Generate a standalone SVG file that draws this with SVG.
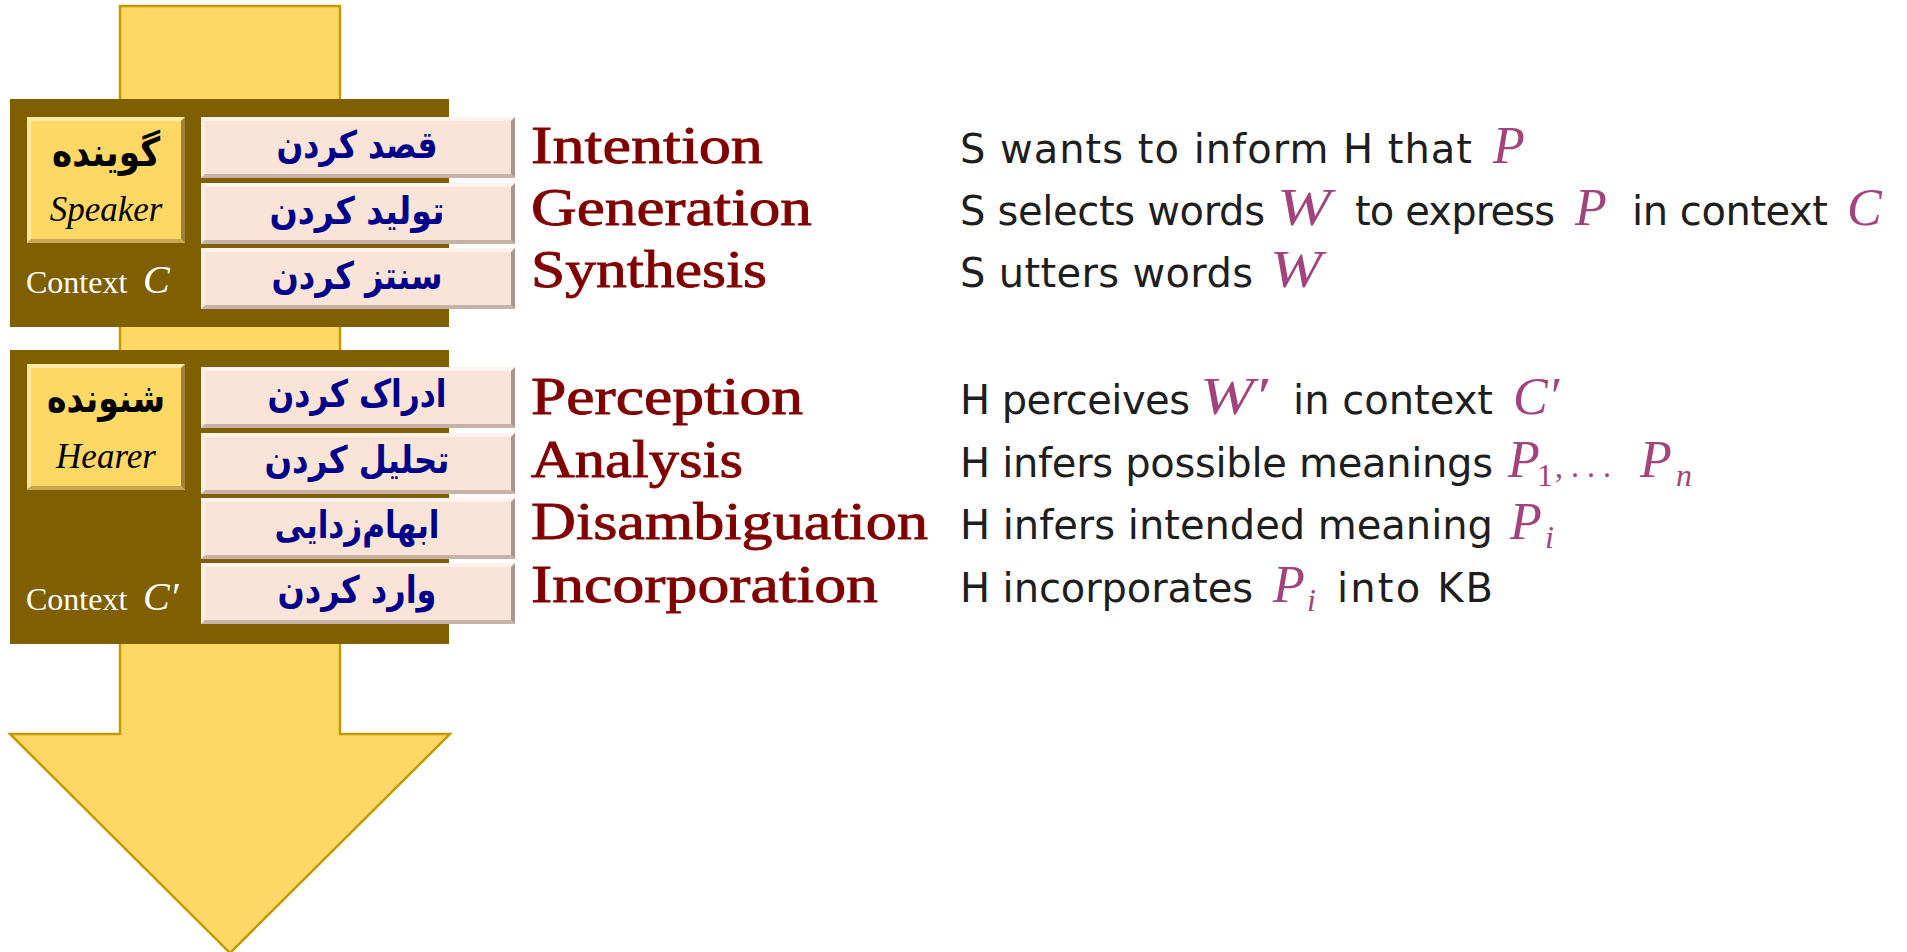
<svg xmlns="http://www.w3.org/2000/svg" xmlns:xlink="http://www.w3.org/1999/xlink" width="1907" height="952" viewBox="0 0 1907 952">
<style>
.brown{fill:#7F5F00}
.fa{font-family:"DejaVu Sans",sans-serif;font-weight:bold;font-size:38px;fill:#00008B;text-anchor:middle}
.role{font-family:"DejaVu Sans",sans-serif;font-weight:bold;font-size:40px;fill:#000;text-anchor:middle}
.en{font-family:"Liberation Serif",serif;font-style:italic;font-size:35px;fill:#000;text-anchor:middle}
.ctx{font-family:"Liberation Serif",serif;font-size:32px;fill:#fff}
.ctxm{font-family:"Liberation Serif",serif;font-style:italic;font-size:40px;fill:#fff}
.lbl{font-family:"Liberation Serif",serif;font-size:53px;fill:#800000;stroke:#800000;stroke-width:0.9}
.d{font-family:"DejaVu Sans",sans-serif;font-size:40px;fill:#1E1E1E}
.m{font-family:"Liberation Serif",serif;font-style:italic;font-size:52px;fill:#A1437D}
.ms{font-family:"Liberation Serif",serif;font-size:32px;fill:#A1437D}
.msi{font-family:"Liberation Serif",serif;font-style:italic;font-size:32px;fill:#A1437D}
</style>
<defs>
<g id="pink">
<rect x="0" y="0" width="314" height="61" fill="#FAE4D7"/>
<polygon points="0,0 314,0 310,4 4,4" fill="#FDF2EC"/>
<polygon points="0,0 4,4 4,57 0,61" fill="#FCEEE6"/>
<polygon points="314,0 314,61 310,57 310,4" fill="#A8978F"/>
<polygon points="0,61 314,61 310,57 4,57" fill="#C6B2A7"/>
</g>
<g id="yel">
<rect x="0" y="0" width="158" height="126" fill="#FDD865"/>
<polygon points="0,0 158,0 154,4 4,4" fill="#FFEBA8"/>
<polygon points="0,0 4,4 4,122 0,126" fill="#FFE69A"/>
<polygon points="158,0 158,126 154,122 154,4" fill="#9E8040"/>
<polygon points="0,126 158,126 154,122 4,122" fill="#C9A752"/>
</g>
</defs>
<rect width="1907" height="952" fill="#fff"/>
<g id="arrow">
<polygon points="120,6 340,6 340,734 450,734 230,953 10,734 120,734" fill="#FDD866" stroke="#C49A00" stroke-width="2.5" stroke-linejoin="miter"/>
</g>
<g id="speaker-panel">
<rect class="brown" x="10" y="99" width="439" height="228"/>
<use xlink:href="#yel" x="27" y="117"/>
<text class="role" x="106" y="166" textLength="108" lengthAdjust="spacingAndGlyphs">گوینده</text>
<text class="en" x="106" y="221">Speaker</text>
<text class="ctx" x="26" y="293">Context</text>
<text class="ctxm" x="143" y="293">C</text>
</g>
<g id="hearer-panel">
<rect class="brown" x="10" y="350" width="439" height="294"/>
<use xlink:href="#yel" x="27" y="364"/>
<text class="role" x="106" y="412" textLength="118" lengthAdjust="spacingAndGlyphs">شنونده</text>
<text class="en" x="106" y="468">Hearer</text>
<text class="ctx" x="26" y="610">Context</text>
<text class="ctxm" x="143" y="610">C′</text>
</g>
<g id="step-intention">
<use xlink:href="#pink" x="201" y="117"/>
<text class="fa" x="357" y="158" textLength="161" lengthAdjust="spacingAndGlyphs">قصد کردن</text>
<text class="lbl" x="531" y="163" textLength="232" lengthAdjust="spacingAndGlyphs">Intention</text>
<text class="d" x="960" y="163" textLength="512">S wants to inform H that</text>
<text class="m" x="1493" y="163">P</text>
</g>
<g id="step-generation">
<use xlink:href="#pink" x="201" y="183"/>
<text class="fa" x="357" y="224" textLength="175" lengthAdjust="spacingAndGlyphs">تولید کردن</text>
<text class="lbl" x="531" y="225" textLength="281" lengthAdjust="spacingAndGlyphs">Generation</text>
<text class="d" x="960" y="225" textLength="305">S selects words</text>
<text class="m" x="1277" y="225" textLength="54" lengthAdjust="spacingAndGlyphs">W</text>
<text class="d" x="1355" y="225" textLength="200">to express</text>
<text class="m" x="1575" y="225">P</text>
<text class="d" x="1632" y="225" textLength="196">in context</text>
<text class="m" x="1847" y="225">C</text>
</g>
<g id="step-synthesis">
<use xlink:href="#pink" x="201" y="248"/>
<text class="fa" x="357" y="289" textLength="171" lengthAdjust="spacingAndGlyphs">سنتز کردن</text>
<text class="lbl" x="531" y="287" textLength="236" lengthAdjust="spacingAndGlyphs">Synthesis</text>
<text class="d" x="960" y="287" textLength="293">S utters words</text>
<text class="m" x="1270" y="287" textLength="52" lengthAdjust="spacingAndGlyphs">W</text>
</g>
<g id="step-perception">
<use xlink:href="#pink" x="201" y="367"/>
<text class="fa" x="357" y="407" textLength="179" lengthAdjust="spacingAndGlyphs">ادراک کردن</text>
<text class="lbl" x="531" y="414" textLength="272" lengthAdjust="spacingAndGlyphs">Perception</text>
<text class="d" x="960" y="414" textLength="230">H perceives</text>
<text class="m" x="1200" y="414" textLength="68" lengthAdjust="spacingAndGlyphs">W′</text>
<text class="d" x="1293" y="414" textLength="200">in context</text>
<text class="m" x="1513" y="414">C′</text>
</g>
<g id="step-analysis">
<use xlink:href="#pink" x="201" y="433"/>
<text class="fa" x="357" y="473" textLength="185" lengthAdjust="spacingAndGlyphs">تحلیل کردن</text>
<text class="lbl" x="531" y="477" textLength="212" lengthAdjust="spacingAndGlyphs">Analysis</text>
<text class="d" x="960" y="477" textLength="533">H infers possible meanings</text>
<text class="m" x="1508" y="477">P</text>
<text class="ms" x="1537" y="486">1</text>
<text class="ms" x="1555" y="477">, . . .</text>
<text class="m" x="1640" y="477">P</text>
<text class="msi" x="1676" y="486">n</text>
</g>
<g id="step-disambiguation">
<use xlink:href="#pink" x="201" y="498"/>
<text class="fa" x="357" y="538" textLength="165" lengthAdjust="spacingAndGlyphs">ابهام‌زدایی</text>
<text class="lbl" x="531" y="539" textLength="397" lengthAdjust="spacingAndGlyphs">Disambiguation</text>
<text class="d" x="960" y="539" textLength="533">H infers intended meaning</text>
<text class="m" x="1510" y="539">P</text>
<text class="msi" x="1545" y="548">i</text>
</g>
<g id="step-incorporation">
<use xlink:href="#pink" x="201" y="563"/>
<text class="fa" x="357" y="603" textLength="159" lengthAdjust="spacingAndGlyphs">وارد کردن</text>
<text class="lbl" x="531" y="602" textLength="347" lengthAdjust="spacingAndGlyphs">Incorporation</text>
<text class="d" x="960" y="602" textLength="293">H incorporates</text>
<text class="m" x="1273" y="602">P</text>
<text class="msi" x="1307" y="611">i</text>
<text class="d" x="1337" y="602" textLength="156">into KB</text>
</g>
<g id="connectors"></g>
</svg>
